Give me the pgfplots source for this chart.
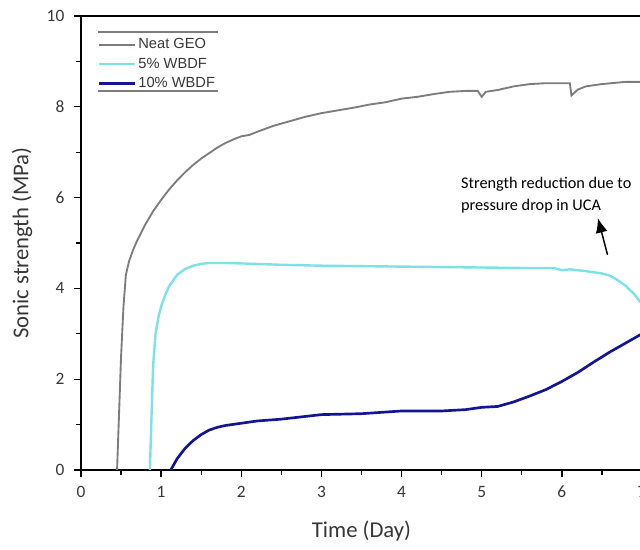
\documentclass[border=0pt]{standalone}
\usepackage{fontspec}
\setmainfont{Carlito}
\newfontfamily\legfont{Liberation Sans}
\usepackage{pgfplots}
\pgfplotsset{compat=1.18}
\usetikzlibrary{arrows.meta}
\definecolor{geo}{RGB}{125,125,125}
\definecolor{wfive}{RGB}{125,225,232}
\definecolor{wten}{RGB}{20,20,150}
\definecolor{txt}{RGB}{55,55,55}
\begin{document}
\begin{tikzpicture}
\begin{axis}[
  name=ax, at={(0,0)}, anchor=south west,
  scale only axis, width=420.75pt, height=340.5pt,
  xmin=0, xmax=7, ymin=0, ymax=10,
  xtick={0,1,...,7}, minor xtick={0.5,1.5,...,6.5},
  ytick={0,2,...,10}, minor ytick={1,3,...,9},
  xtick pos=left, ytick pos=left, tick align=outside,
  major tick length=5pt, minor tick length=3.5pt,
  every tick/.style={black, line width=1pt},
  axis line style={black, line width=1.4pt},
  /pgf/number format/assume math mode=true,
  ticklabel style={font=\fontsize{13}{15}\selectfont, text=txt},
  xticklabel style={yshift=-3.5pt},
  yticklabel style={xshift=-4pt},
  xlabel={Time (Day)}, ylabel={Sonic strength (MPa)},
  label style={font=\fontsize{17}{20}\selectfont, text=txt},
  xlabel style={at={(axis description cs:0.5,-0.135)}, anchor=center},
  ylabel style={at={(axis description cs:-0.105,0.5)}, anchor=center},
  legend style={at={(rel axis cs:0.03,0.954)}, anchor=north west, draw=none, fill=none,
    font=\legfont\fontsize{11}{12.5}\selectfont, text=txt, row sep=3pt,
    inner sep=0pt, nodes={inner sep=1.2pt}},
  legend cell align=left,
  legend image code/.code={\draw[#1] (0cm,0cm) -- (0.95cm,0cm);},
]
\addplot[geo, line width=1.4pt] coordinates {
(0.45,0) (0.47,1) (0.50,2.5) (0.53,3.6) (0.56,4.3) (0.60,4.6) (0.65,4.85) (0.70,5.05) (0.80,5.4)
(0.90,5.7) (1.0,5.95) (1.1,6.18) (1.2,6.38) (1.3,6.56) (1.4,6.72) (1.5,6.86) (1.6,6.98)
(1.7,7.1) (1.8,7.2) (1.9,7.28) (2.0,7.35) (2.1,7.38) (2.2,7.45) (2.4,7.58) (2.6,7.68)
(2.8,7.78) (3.0,7.86) (3.2,7.92) (3.4,7.98) (3.6,8.05) (3.8,8.1) (4.0,8.18) (4.2,8.22)
(4.4,8.28) (4.6,8.33) (4.8,8.35) (4.95,8.35) (5.0,8.22) (5.05,8.33) (5.2,8.37) (5.4,8.45)
(5.6,8.5) (5.8,8.52) (6.0,8.52) (6.1,8.52) (6.12,8.25) (6.2,8.38) (6.3,8.45) (6.5,8.5)
(6.8,8.55) (7.0,8.55)};
\addlegendentry{Neat GEO}
\addplot[wfive, line width=1.8pt] coordinates {
(0.86,0) (0.88,1.2) (0.90,2.3) (0.93,3.0) (0.97,3.4) (1.0,3.6) (1.05,3.85) (1.1,4.05)
(1.2,4.3) (1.3,4.43) (1.4,4.5) (1.5,4.54) (1.6,4.56) (1.8,4.56) (2.0,4.55) (2.5,4.52)
(3.0,4.5) (3.5,4.49) (4.0,4.48) (4.5,4.47) (5.0,4.46) (5.5,4.45) (5.9,4.45) (6.0,4.4)
(6.1,4.42) (6.3,4.38) (6.5,4.33) (6.6,4.28) (6.7,4.18) (6.8,4.05) (6.9,3.88) (7.0,3.65)};
\addlegendentry{5\% WBDF}
\addplot[wten, line width=2pt] coordinates {
(1.12,0) (1.2,0.25) (1.3,0.48) (1.4,0.65) (1.5,0.78) (1.6,0.88) (1.7,0.94) (1.8,0.98)
(2.0,1.03) (2.2,1.08) (2.5,1.12) (2.8,1.18) (3.0,1.22) (3.5,1.24) (4.0,1.3) (4.5,1.3)
(4.8,1.33) (5.0,1.38) (5.2,1.4) (5.4,1.5) (5.6,1.63) (5.8,1.77) (6.0,1.95) (6.2,2.15)
(6.4,2.38) (6.6,2.6) (6.8,2.8) (7.0,3.0)};
\addlegendentry{10\% WBDF}
\draw[geo, line width=1pt] (rel axis cs:0.03,0.965) -- (rel axis cs:0.244,0.965);
\draw[geo, line width=1pt] (rel axis cs:0.03,0.835) -- (rel axis cs:0.244,0.835);
\node[anchor=north west, align=left, text=black, inner sep=0pt,
  font=\fontsize{12.2}{16.5}\selectfont] at (axis cs:4.74,6.45)
  {Strength reduction due to\\pressure drop in UCA};
\draw[black, line width=1.1pt, -{Latex[length=11pt,width=9pt]}] (axis cs:6.57,4.74) -- (axis cs:6.45,5.55);
\end{axis}
\pgfresetboundingbox
\path[use as bounding box] ([xshift=-60.75pt,yshift=-60pt]ax.south west) rectangle ([xshift=419.25pt,yshift=352.5pt]ax.south west);
\end{tikzpicture}
\end{document}
